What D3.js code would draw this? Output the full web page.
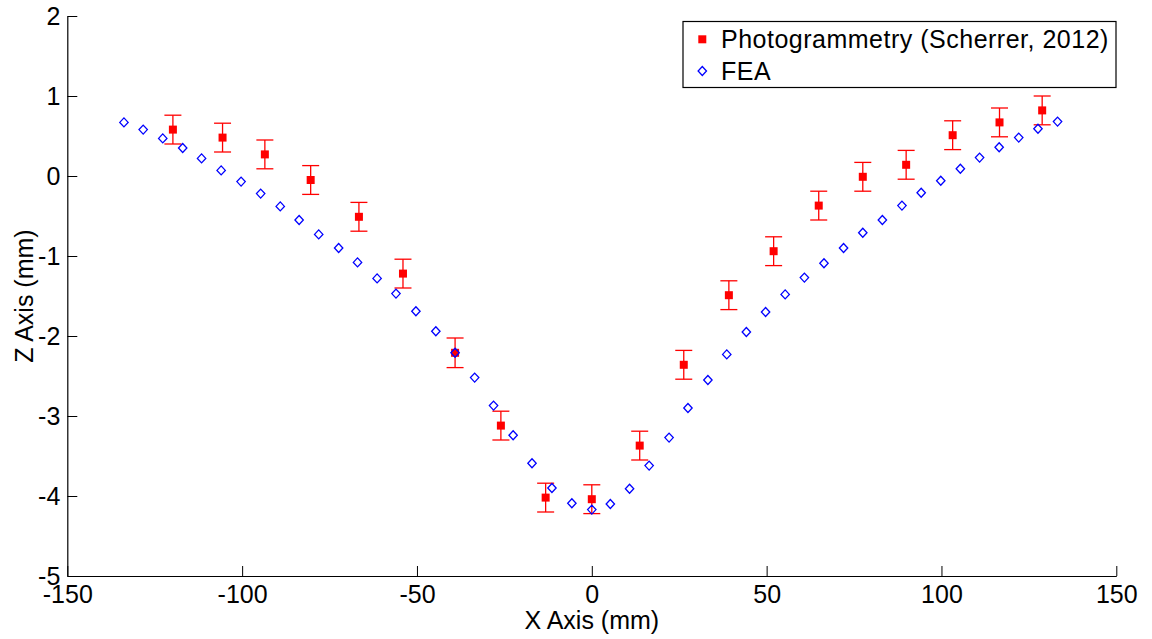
<!DOCTYPE html>
<html>
<head>
<meta charset="utf-8">
<script src="https://cdn.jsdelivr.net/npm/d3@7"></script>
<style>
  html, body { margin: 0; padding: 0; background: #fff; }
  svg { display: block; font-family: "Liberation Sans", Arial, sans-serif; }
</style>
</head>
<body>
<svg id="chart" width="1152" height="639"></svg>
<script>
// ---- data ----
const xTicks = [-150, -100, -50, 0, 50, 100, 150];
const yTicks = [-5, -4, -3, -2, -1, 0, 1, 2];

const photoX = [-119.8, -105.6, -93.5, -80.4, -66.6, -54.0, -39.1, -26.0, -13.2, 0.0,
                13.7, 26.3, 39.2, 52.0, 64.9, 77.5, 89.9, 103.2, 116.6, 128.8];
const photoZ = [0.58, 0.48, 0.27, -0.05, -0.51, -1.22, -2.21, -3.12, -4.02, -4.04,
                -3.37, -2.36, -1.49, -0.94, -0.37, -0.01, 0.14, 0.51, 0.67, 0.82];
const photoErr = [0.18, 0.18, 0.18, 0.18, 0.18, 0.18, 0.185, 0.18, 0.18, 0.18,
                  0.18, 0.18, 0.18, 0.18, 0.18, 0.18, 0.18, 0.18, 0.18, 0.18];

const feaX = [-133.8, -128.3, -122.7, -117.0, -111.6, -106.0, -100.3, -94.7, -89.1, -83.7,
              -78.1, -72.4, -67.0, -61.4, -56.0, -50.3, -44.6, -39.1, -33.5, -28.1,
              -22.5, -17.1, -11.4, -5.7, 0.0,
              5.3, 10.8, 16.4, 22.1, 27.5, 33.2, 38.6, 44.2, 49.7, 55.3,
              60.8, 66.4, 72.0, 77.5, 83.1, 88.7, 94.2, 99.8, 105.4, 110.9,
              116.5, 122.1, 127.6, 133.2];
const feaZ = [0.67, 0.58, 0.47, 0.35, 0.22, 0.07, -0.07, -0.22, -0.38, -0.55,
              -0.73, -0.90, -1.08, -1.28, -1.47, -1.69, -1.94, -2.21, -2.52, -2.87,
              -3.24, -3.59, -3.90, -4.09, -4.17,
              -4.10, -3.91, -3.62, -3.27, -2.90, -2.55, -2.23, -1.95, -1.70, -1.48,
              -1.27, -1.09, -0.90, -0.71, -0.55, -0.37, -0.21, -0.06, 0.09, 0.23,
              0.36, 0.48, 0.59, 0.68];

const seriesNames = ["Photogrammetry (Scherrer, 2012)", "FEA"];
const xTitle = "X Axis (mm)";
const yTitle = "Z Axis (mm)";

// ---- layout ----
const L = 67.3, R = 1116.3, T = 16, B = 576;
const FONT = 25;
const RED = "#ff0000", BLUE = "#0000ff";
const fmt = d => String(d);   // plain hyphen-minus, as in the reference

const svg = d3.select("#chart");
const x = d3.scaleLinear().domain([-150, 150]).range([L, R]);
const y = d3.scaleLinear().domain([-5, 2]).range([B, T]);

// axes
const gx = svg.append("g").attr("transform", `translate(0,${B})`)
  .call(d3.axisBottom(x).tickValues(xTicks).tickFormat(fmt)
        .tickSizeInner(-10).tickSizeOuter(0).tickPadding(9.5));
const gy = svg.append("g").attr("transform", `translate(${L},0)`)
  .call(d3.axisLeft(y).tickValues(yTicks).tickFormat(fmt)
        .tickSizeInner(-10).tickSizeOuter(0).tickPadding(7));
[gx, gy].forEach(g => {
  g.selectAll("path.domain").attr("stroke", "#000").attr("stroke-width", 1.2);
  g.selectAll(".tick line").attr("stroke", "#000").attr("stroke-width", 1);
  g.selectAll(".tick text").attr("fill", "#000")
    .style("font-size", FONT + "px").style("font-family", '"Liberation Sans", Arial, sans-serif');
});

// axis titles
svg.append("text").attr("x", (L + R) / 2).attr("y", 628.5)
  .attr("text-anchor", "middle").style("font-size", FONT + "px").attr("fill", "#000")
  .text(xTitle);
svg.append("text").attr("transform", `translate(33,${(T + B) / 2}) rotate(-90)`)
  .attr("text-anchor", "middle").style("font-size", FONT + "px").attr("fill", "#000")
  .text(yTitle);

// photogrammetry with error bars
const photo = photoX.map((v, i) => ({ x: v, z: photoZ[i], e: photoErr[i] }));
const cap = 8.5;
const eg = svg.append("g").attr("stroke", RED).attr("stroke-width", 1.3).attr("fill", "none");
photo.forEach(d => {
  const cx = x(d.x), y1 = y(d.z + d.e), y2 = y(d.z - d.e);
  eg.append("line").attr("x1", cx).attr("x2", cx).attr("y1", y1).attr("y2", y2);
  eg.append("line").attr("x1", cx - cap).attr("x2", cx + cap).attr("y1", y1).attr("y2", y1);
  eg.append("line").attr("x1", cx - cap).attr("x2", cx + cap).attr("y1", y2).attr("y2", y2);
});
const sq = 8;
svg.append("g").selectAll("rect").data(photo).join("rect")
  .attr("x", d => x(d.x) - sq / 2).attr("y", d => y(d.z) - sq / 2)
  .attr("width", sq).attr("height", sq).attr("fill", RED);

// FEA diamonds
const fea = feaX.map((v, i) => ({ x: v, z: feaZ[i] }));
const dw = 4.2, dh = 4.5;
const diamond = (cx, cy) => `M${cx},${cy - dh}L${cx + dw},${cy}L${cx},${cy + dh}L${cx - dw},${cy}Z`;
svg.append("g").selectAll("path").data(fea).join("path")
  .attr("d", d => diamond(x(d.x), y(d.z)))
  .attr("fill", "none").attr("stroke", BLUE).attr("stroke-width", 1.3);

// legend
const lg = svg.append("g");
lg.append("rect").attr("x", 683).attr("y", 21.5).attr("width", 433).attr("height", 66)
  .attr("fill", "#fff").attr("stroke", "#000").attr("stroke-width", 1.2);
lg.append("rect").attr("x", 702.3 - sq / 2).attr("y", 39.3 - sq / 2)
  .attr("width", sq).attr("height", sq).attr("fill", RED);
lg.append("path").attr("d", diamond(702.3, 71)).attr("fill", "none")
  .attr("stroke", BLUE).attr("stroke-width", 1.3);
lg.append("text").attr("x", 721).attr("y", 47.7).style("font-size", FONT + "px")
  .style("letter-spacing", "0.5px").attr("fill", "#000").text(seriesNames[0]);
lg.append("text").attr("x", 721).attr("y", 80).style("font-size", FONT + "px")
  .style("letter-spacing", "0.5px").attr("fill", "#000").text(seriesNames[1]);
</script>
</body>
</html>
